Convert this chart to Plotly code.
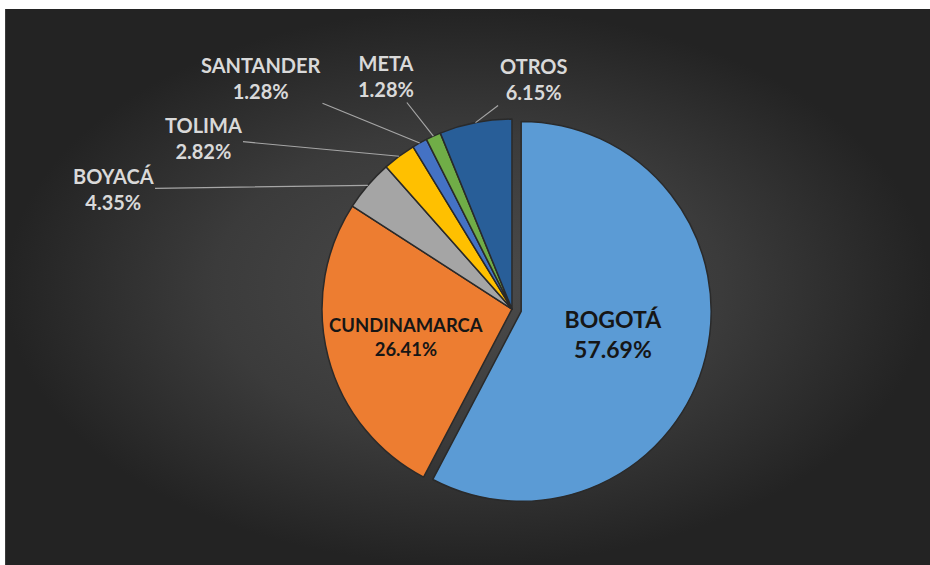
import math
import plotly.graph_objects as go

# ---- data ----
departamentos = ["BOGOTÁ", "CUNDINAMARCA", "BOYACÁ", "TOLIMA", "SANTANDER", "META", "OTROS"]
porcentajes = [57.69, 26.41, 4.35, 2.82, 1.28, 1.28, 6.15]
colores = ["#5B9BD5", "#ED7D31", "#A5A5A5", "#FFC000", "#4472C4", "#70AD47", "#285E98"]

# slices labelled inside the pie; the rest get callout labels
inside = [True, True, False, False, False, False, False]
pulls = [0.05, 0, 0, 0, 0, 0, 0]

# callout label centres (pixels, from top-left of the 930x565 page)
callout_pos = {
    "BOYACÁ": (113, 189),
    "TOLIMA": (203, 138),
    "SANTANDER": (261, 78),
    "META": (386, 76),
    "OTROS": (533, 79),
}

W, H = 930, 565
dom_x = [0.336, 0.765]
dom_y = [0.10, 0.806]
FONT = "Lato, Open Sans, sans-serif"

fig = go.Figure()

# dark radial-gradient background panel
fig.add_trace(go.Scatter(
    x=[0.0055, 1, 1, 0.0055, 0.0055], y=[0, 0, 0.984, 0.984, 0],
    mode="lines", fill="toself", line=dict(width=0),
    fillgradient=dict(type="radial", colorscale=[[0, "#4b4b4b"], [0.55, "#3b3b3b"], [1, "#232323"]]),
    hoverinfo="skip", showlegend=False,
))

fig.add_trace(go.Pie(
    labels=departamentos,
    values=porcentajes,
    sort=False,
    direction="clockwise",
    rotation=0,
    pull=pulls,
    marker=dict(colors=colores, line=dict(color="#2a2a2a", width=1.5)),
    text=[f"<b>{d}</b><br><b>{p:.2f}%</b>" if ins else "" for d, p, ins in zip(departamentos, porcentajes, inside)],
    texttemplate="%{text}",
    textposition=["inside" if ins else "none" for ins in inside],
    insidetextfont=dict(family=FONT, size=23, color="#161616"),
    insidetextorientation="horizontal",
    domain=dict(x=dom_x, y=dom_y),
    showlegend=False,
    hoverinfo="label+value",
))

# pie geometry as plotly computes it (margins are zero)
cx = W * (dom_x[0] + dom_x[1]) / 2
cy = H * (1 - (dom_y[0] + dom_y[1]) / 2)
r = min(W * (dom_x[1] - dom_x[0]), H * (dom_y[1] - dom_y[0])) / (2 + 2 * max(pulls))
total = sum(porcentajes)

cum = 0.0
for d, p, ins in zip(departamentos, porcentajes, inside):
    mid = (cum + p / 2) / total
    cum += p
    if ins:
        continue
    theta = math.pi / 2 - 2 * math.pi * mid
    tx = cx + r * math.cos(theta)
    ty = cy - r * math.sin(theta)
    lx, ly = callout_pos[d]
    fig.add_annotation(
        xref="paper", yref="paper",
        x=tx / W, y=1 - ty / H,
        ax=lx - tx, ay=ly - ty, axref="pixel", ayref="pixel",
        text=f"<b>{d}</b><br><b>{p:.2f}%</b>",
        showarrow=True, arrowhead=0, arrowwidth=1.2, arrowcolor="#a6a6a6",
        font=dict(family=FONT, size=20, color="#D9D9D9"),
        align="center",
    )

fig.update_layout(
    width=W, height=H,
    margin=dict(l=0, r=0, t=0, b=0, autoexpand=False),
    paper_bgcolor="white",
    plot_bgcolor="rgba(0,0,0,0)",
    xaxis=dict(range=[0, 1], visible=False, domain=[0, 1], fixedrange=True),
    yaxis=dict(range=[0, 1], visible=False, domain=[0, 1], fixedrange=True),
)

fig.write_html(
    "out.html",
    config={"displayModeBar": False},
    post_script="document.body.style.margin='0px';document.body.style.overflow='hidden';",
)
